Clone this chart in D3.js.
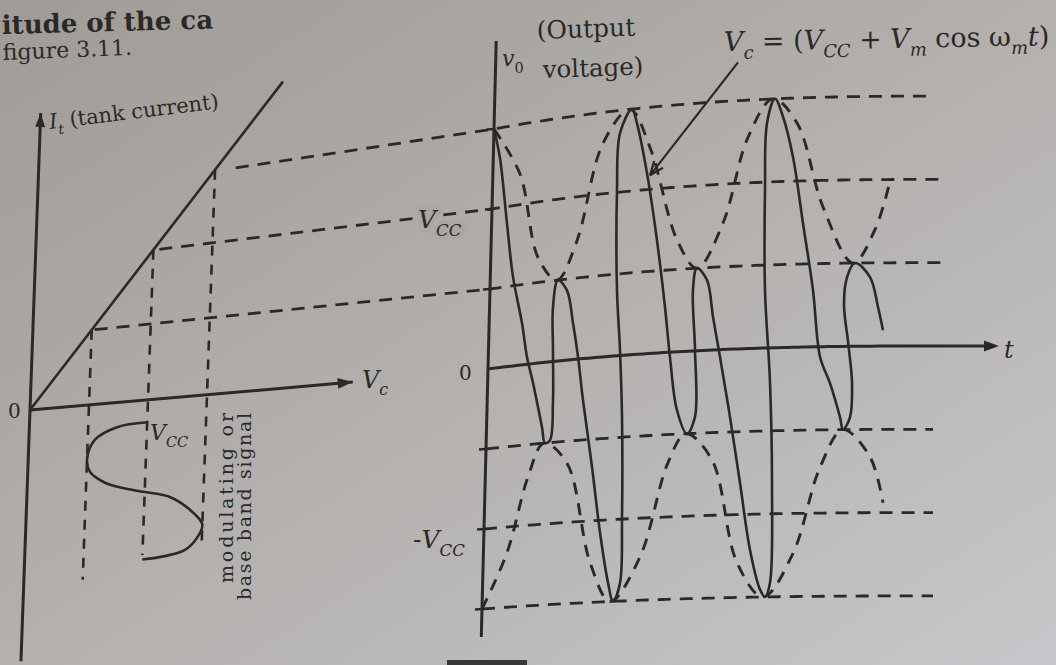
<!DOCTYPE html>
<html>
<head>
<meta charset="utf-8">
<script src="https://cdn.jsdelivr.net/npm/d3@7"></script>
<style>
  html, body { margin: 0; padding: 0; background: #b3b0ac; }
  svg { display: block; }
  text { font-family: "DejaVu Serif", "Liberation Serif", serif; fill: #2b2927; }
</style>
</head>
<body>
<svg id="fig" width="1056" height="665"></svg>
<script>
// ---- Right panel: output voltage v0 against time (t in carrier units, v in units of Vm, Vcc = 2) ----
const levelValues = [3, 2, 1, -1, -2, -3];              // Vcc+Vm, Vcc, Vcc-Vm and their negatives
const levelEndT   = [8.72, 9.02, 9.04, 8.94, 8.98, 9.02];
const leftStartVc = [3.35, 2.1, 1.05];                 // where the +levels leave the tank-current line

// Modulated carrier (solid), as [t, v]
const outputWave = [
  [0, 3], [0.135, 2.62], [0.308, 1.79], [0.456, 1.11], [0.659, 0.52], [0.776, 0.09], [0.91, -0.24],
  [1.112, -0.8], [1.18, -1], [1.279, -0.97], [1.319, -0.48], [1.294, 0.14], [1.273, 0.67], [1.36, 1],
  [1.545, 0.86], [1.682, 0.45], [1.799, 0.03], [1.92, -0.51], [2.134, -1.34], [2.326, -2.15], [2.511, -2.77],
  [2.62, -3], [2.751, -2.78], [2.759, -1.97], [2.71, -0.75], [2.637, 0.07], [2.548, 0.8], [2.499, 2.02],
  [2.531, 2.72], [2.76, 3], [2.867, 2.82], [3.092, 2.2], [3.325, 1.37], [3.518, 0.55], [3.642, -0.06],
  [3.808, -0.71], [4.02, -1], [4.172, -0.8], [4.14, 0.01], [4.07, 0.74], [4.14, 1], [4.346, 0.85],
  [4.484, 0.4], [4.644, -0.09], [4.873, -0.82], [5.105, -1.62], [5.337, -2.43], [5.557, -2.91], [5.66, -3],
  [5.753, -2.83], [5.745, -1.63], [5.657, -0.42], [5.512, 0.7], [5.464, 1.9], [5.472, 2.71],
  [5.62, 3], [5.789, 2.78], [6.008, 2.29], [6.24, 1.49], [6.473, 0.68], [6.645, -0.12], [6.857, -0.44],
  [7.074, -0.85], [7.14, -1], [7.274, -0.85], [7.298, -0.44], [7.2, 0.05], [7.1, 0.5], [7.147, 0.83],
  [7.3, 1], [7.607, 0.83], [7.781, 0.47], [7.892, 0.19]
];

// Envelope Vc = Vcc + Vm cos(wm t) and its mirror (dashed)
const upperEnvelope = [
  [0, 3], [0.545, 2.38], [0.948, 1.31], [1.34, 1], [1.721, 1.46], [2.195, 2.62], [2.72, 3], [3.14, 2.51],
  [3.726, 1.36], [4.14, 1], [4.639, 1.53], [5.098, 2.55], [5.58, 3], [6.072, 2.7], [6.633, 1.68], [7.26, 1],
  [7.684, 1.4], [7.943, 1.93]
];
const lowerEnvelope = [
  [0, -3], [0.473, -2.32], [0.856, -1.4], [1.16, -1], [1.631, -1.27], [2.141, -2.51], [2.56, -3], [3.139, -2.47],
  [3.654, -1.34], [4.0, -1], [4.533, -1.33], [5.083, -2.58], [5.62, -3], [6.199, -2.48], [6.698, -1.45], [7.14, -1],
  [7.693, -1.33], [7.975, -1.88]
];

// Pointer from the envelope formula to the waveform: [t, v] of tail and tip
const pointerTail = [4.861, 3.463];
const pointerTip  = [3.153, 2.17];

// ---- Left panel: tank current It against collector supply Vc ----
const tankLine      = [[0, 0], [4.1, 4.1]];            // It proportional to Vc
const dropVc        = [1, 2, 3];                       // Vcc-Vm, Vcc, Vcc+Vm
const dropEndTime   = [-2.33, -2.07, -2.0];
// Modulating signal drawn below the Vc axis: [Vc, time (downwards)]
const modSignal = [
  [2, -0.3], [1.49, -0.33], [1.12, -0.475], [1.0, -0.73], [1.06, -0.9], [1.32, -1.06], [1.58, -1.14],
  [2, -1.23], [2.43, -1.325], [2.78, -1.52], [3.0, -1.73], [2.92, -1.9], [2.72, -2.05], [2.38, -2.11], [2, -2.13]
];

const W = 1056, H = 665;
const ink = "#2b2927";
const svg = d3.select("#fig");

// paper
const defs = svg.append("defs");
const grad = defs.append("linearGradient").attr("id", "paper")
  .attr("x1", "0").attr("y1", "0").attr("x2", "1").attr("y2", "1");
grad.append("stop").attr("offset", "0").attr("stop-color", "#9f9c97");
grad.append("stop").attr("offset", "0.5").attr("stop-color", "#b3b0ad");
grad.append("stop").attr("offset", "1").attr("stop-color", "#c7c6ca");
svg.append("rect").attr("width", W).attr("height", H).attr("fill", "url(#paper)");

// ---- projections ----
const tScale = d3.scaleLinear().domain([0, 10]).range([488, 988]);
const vScale = d3.scaleLinear().domain([-3, 3]).range([609, 129]);
const sagSpan = d3.scaleLinear().domain([488, 933]).range([0, 1]).clamp(true);
function proj(t, v) {
  const xb = tScale(t);
  const s = 1 - Math.pow(1 - sagSpan(xb), 2.5);     // page curvature of the printed plot
  return [xb + 2 * v, vScale(v) - (23 + 3.3 * v) * s];
}
const vcX = d3.scaleLinear().domain([0, 1]).range([30, 89]);
const itY = d3.scaleLinear().domain([0, 1]).range([410, 335]);
function projL(a, b) { return [vcX(a) + 2.7 * b, itY(b) - 5.1 * a]; }

const g = svg.append("g");
const line = d3.line();
const smooth = d3.line().curve(d3.curveCatmullRom.alpha(0.5));

function arrowHead(tip, from, len, half) {
  const dx = tip[0] - from[0], dy = tip[1] - from[1];
  const L = Math.hypot(dx, dy), ux = dx / L, uy = dy / L;
  const bx = tip[0] - ux * len, by = tip[1] - uy * len;
  g.append("path")
    .attr("d", `M${tip[0]},${tip[1]}L${bx - uy * half},${by + ux * half}L${bx + uy * half},${by - ux * half}Z`)
    .attr("fill", ink);
}

// ---- dashed level lines ----
levelValues.forEach((v, i) => {
  const pts = [];
  if (i < leftStartVc.length) pts.push(projL(leftStartVc[i], v));
  d3.range(0, levelEndT[i], 0.1).forEach(t => pts.push(proj(t, v)));
  pts.push(proj(levelEndT[i], v));
  g.append("path").attr("d", line(pts)).attr("fill", "none")
    .attr("stroke", ink).attr("stroke-width", 2.8).attr("stroke-dasharray", "13 9");
  const p0 = proj(0, v);
  g.append("line").attr("x1", p0[0] - 7).attr("y1", p0[1] + 0.5).attr("x2", p0[0]).attr("y2", p0[1])
    .attr("stroke", ink).attr("stroke-width", 2.4);
});

// ---- envelopes ----
[upperEnvelope, lowerEnvelope].forEach(env => {
  g.append("path").attr("d", smooth(env.map(d => proj(d[0], d[1])))).attr("fill", "none")
    .attr("stroke", ink).attr("stroke-width", 2.9).attr("stroke-dasharray", "12 9");
});

// ---- modulated output ----
g.append("path").attr("d", smooth(outputWave.map(d => proj(d[0], d[1])))).attr("fill", "none")
  .attr("stroke", ink).attr("stroke-width", 2.6).attr("stroke-linejoin", "round");

// ---- right axes ----
g.append("path").attr("d", line([proj(0, -3.35), proj(0, 4.1)])).attr("stroke", ink).attr("stroke-width", 3);
const tAxis = d3.range(0, 10.14, 0.1).map(t => proj(t, 0));
const tEnd = proj(10.14, 0);
tAxis.push(tEnd);
g.append("path").attr("d", line(tAxis)).attr("fill", "none").attr("stroke", ink).attr("stroke-width", 3);
arrowHead([tEnd[0] + 4, tEnd[1]], proj(9.8, 0), 15, 5.5);

// pointer
const pA = proj(pointerTail[0], pointerTail[1]), pB = proj(pointerTip[0], pointerTip[1]);
g.append("path").attr("d", line([pA, pB])).attr("stroke", ink).attr("stroke-width", 2.2);
{
  const ang = Math.atan2(pB[1] - pA[1], pB[0] - pA[0]);
  [0.38, -0.38].forEach(a => {
    const q = [pB[0] - 15 * Math.cos(ang + a), pB[1] - 15 * Math.sin(ang + a)];
    g.append("path").attr("d", line([pB, q])).attr("stroke", ink).attr("stroke-width", 2.2);
  });
}

// ---- left panel ----
g.append("path").attr("d", line(tankLine.map(d => projL(d[0], d[1])))).attr("stroke", ink).attr("stroke-width", 2.6);
dropVc.forEach((a, i) => {
  g.append("path").attr("d", line([projL(a, a), projL(a, dropEndTime[i])])).attr("fill", "none")
    .attr("stroke", ink).attr("stroke-width", 2.6).attr("stroke-dasharray", "10 9");
});
g.append("path").attr("d", smooth(modSignal.map(d => projL(d[0], d[1])))).attr("fill", "none")
  .attr("stroke", ink).attr("stroke-width", 2.6);

const vcEnd = projL(5.47, 0), itEnd = projL(0, 3.96);
g.append("path").attr("d", line([projL(0, 0), vcEnd])).attr("stroke", ink).attr("stroke-width", 3);
g.append("path").attr("d", line([projL(0, -3.35), itEnd])).attr("stroke", ink).attr("stroke-width", 3);
arrowHead(vcEnd, projL(5.0, 0), 15, 5.5);
arrowHead(itEnd, projL(0, 3.6), 14, 5);

// ---- text ----
function richText(x, y, parts, size, opts = {}) {
  const t = g.append("text").attr("x", x).attr("y", y).attr("font-size", size);
  if (opts.rotate) t.attr("transform", `rotate(${opts.rotate},${x},${y})`);
  if (opts.weight) t.attr("font-weight", opts.weight);
  if (opts.halo) t.attr("stroke", opts.halo).attr("stroke-width", 7).attr("paint-order", "stroke");
  let down = false;
  parts.forEach(p => {
    const s = typeof p === "string" ? { s: p } : p;
    const ts = t.append("tspan").text(s.s);
    if (s.i) ts.attr("font-style", "italic");
    if (s.sub) {
      ts.attr("font-size", size * 0.66);
      if (!down) { ts.attr("dy", size * 0.3); down = true; }
    } else if (down) { ts.attr("dy", -size * 0.3); down = false; }
  });
  return t;
}

richText(2, 34, ["itude of the ca"], 26, { rotate: -1.5, weight: "bold" });
richText(3, 60, ["figure 3.11."], 22, { rotate: -2.3 });
richText(50, 129, [{ s: "I", i: 1 }, { s: "t", i: 1, sub: 1 }, " (tank current)"], 21, { rotate: -7 });
richText(362, 388, [{ s: "V", i: 1 }, { s: "c", i: 1, sub: 1 }], 24);
richText(8, 418, ["0"], 20);
richText(150, 440, [{ s: "V", i: 1 }, { s: "CC", i: 1, sub: 1 }], 22);

g.append("text").attr("x", 233).attr("y", 583).attr("font-size", 19)
  .attr("transform", "rotate(-90,233,583)").attr("textLength", 170).attr("lengthAdjust", "spacing")
  .text("modulating or");
g.append("text").attr("x", 251).attr("y", 600).attr("font-size", 19)
  .attr("transform", "rotate(-90,251,600)").attr("textLength", 187).attr("lengthAdjust", "spacing")
  .text("base band signal");

richText(502, 66, [{ s: "v", i: 1 }, { s: "0", sub: 1 }], 22);
richText(537, 39, ["(Output"], 25, { rotate: -2 });
richText(543, 78, ["voltage)"], 24.5, { rotate: -2 });
richText(724, 51, [{ s: "V", i: 1 }, { s: "c", i: 1, sub: 1 }, " = (", { s: "V", i: 1 }, { s: "CC", i: 1, sub: 1 },
  " + ", { s: "V", i: 1 }, { s: "m", i: 1, sub: 1 }, " cos  ω", { s: "m", i: 1, sub: 1 }, { s: "t", i: 1 }, ")"], 27, { rotate: -1 });
richText(418, 228, [{ s: "V", i: 1 }, { s: "CC", i: 1, sub: 1 }], 25, { halo: "#aaa7a3" });
richText(413, 548, ["-", { s: "V", i: 1 }, { s: "CC", i: 1, sub: 1 }], 25);
richText(459, 380, ["0"], 20);
richText(1004, 358, [{ s: "t", i: 1 }], 24);

// dark edge of the next printed item at the bottom
svg.append("rect").attr("x", 447).attr("y", 660).attr("width", 80).attr("height", 5).attr("fill", "#3a3836");
</script>
</body>
</html>
